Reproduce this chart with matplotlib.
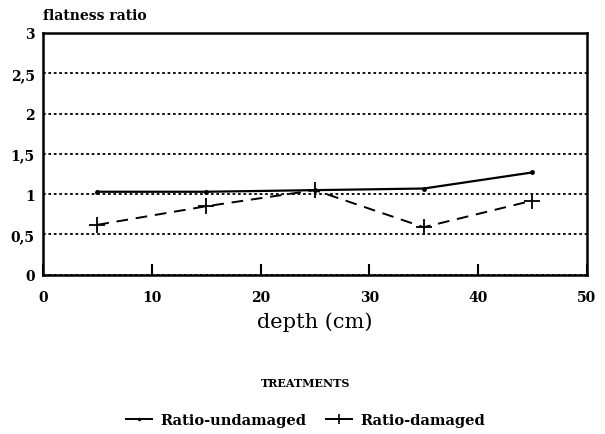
import matplotlib.pyplot as plt
from matplotlib.lines import Line2D
from matplotlib.ticker import FuncFormatter

depth = [5, 15, 25, 35, 45]
ratio_undamaged = [1.03, 1.03, 1.05, 1.07, 1.27]
ratio_damaged = [0.62, 0.85, 1.05, 0.59, 0.92]

plt.rcParams['font.family'] = ['DejaVu Serif']
plt.rcParams['font.weight'] = 'bold'

fig = plt.figure(figsize=(6.05, 4.35), dpi=100)
ax = fig.add_axes([0.071, 0.366, 0.899, 0.556])

ax.plot(depth, ratio_undamaged, color='black', lw=1.6, marker='o', ms=2.5)
ax.plot(depth, ratio_damaged, color='black', lw=1.4, ls=(0, (6, 4)),
        marker='+', ms=11, mew=1.3)

ax.set_xlim(0, 50)
ax.set_ylim(0, 3)
ax.set_xticks(range(0, 51, 10))
ax.set_yticks([0, 0.5, 1, 1.5, 2, 2.5, 3])
ax.yaxis.set_major_formatter(FuncFormatter(lambda v, p: f'{v:g}'.replace('.', ',')))

# dotted horizontal grid, ticks pointing up into the plot
ax.grid(axis='y', ls=(0, (1.5, 1.5)), color='black', lw=1.3)
ax.tick_params(axis='x', direction='in', length=8, width=1.5, labelsize=10, pad=11)
ax.tick_params(axis='y', length=0, labelsize=10, pad=6)
for s in ax.spines.values():
    s.set_linewidth(1.8)

ax.set_xlabel('depth (cm)', fontsize=15, labelpad=5)
fig.text(0.071, 0.963, 'flatness ratio', fontsize=10, ha='left', va='center')

handles = [Line2D([], [], color='black', lw=1.4, marker='o', ms=1.5),
           Line2D([], [], color='black', lw=1.4, marker='+', ms=7, mew=1.2)]
leg = fig.legend(handles, ['Ratio-undamaged', 'Ratio-damaged'], loc='lower center',
                 bbox_to_anchor=(0.505, -0.015), ncol=2, frameon=False, fontsize=10.5,
                 title='TREATMENTS', title_fontsize=8, handlelength=1.8,
                 columnspacing=1.3, handletextpad=0.6)
leg.get_title().set_fontweight('bold')
leg._legend_box.sep = 18

fig.savefig('out.png', dpi=100)
